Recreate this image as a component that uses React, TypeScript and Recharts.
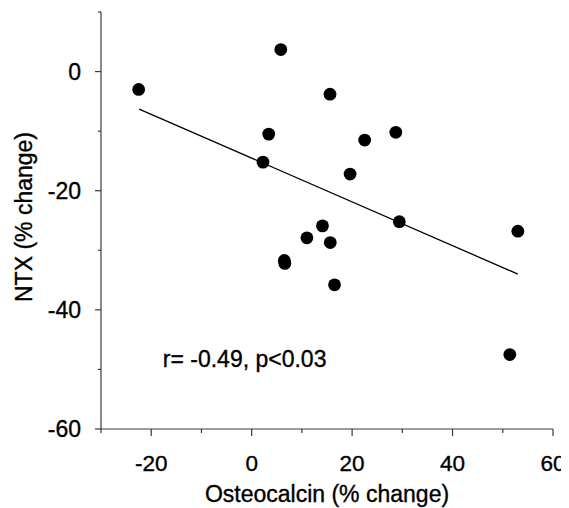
import React from 'react';
import { ScatterChart, Scatter, XAxis, YAxis, ReferenceLine, ReferenceDot } from 'recharts';

const osteocalcin = [-22.5, 5.8, 15.6, 3.4, 22.5, 28.7, 2.25, 19.6, 29.4, 53.0, 14.1, 11.0, 15.65, 6.5, 6.6, 16.5, 51.4];
const ntx = [-3.0, 3.7, -3.8, -10.5, -11.5, -10.2, -15.2, -17.2, -25.2, -26.8, -25.9, -27.9, -28.7, -31.7, -32.2, -35.8, -47.5];

const fitX = [-22.4, 53.0];
const fitY = [-6.3, -34.0];

const xTicks = [-30, -20, -10, 0, 10, 20, 30, 40, 50, 60];
const xLabelled = [-20, 0, 20, 40, 60];
const yTicks = [-60, -50, -40, -30, -20, -10, 0, 10];
const yLabelled = [-60, -40, -20, 0];

const annotation = 'r= -0.49, p<0.03';
const annotationAt = { x: -17.7, y: -49.6 };
const xTitle = 'Osteocalcin (% change)';
const yTitle = 'NTX (% change)';

const points = osteocalcin.map((x, i) => ({ x, y: ntx[i] }));

const FONT = '"Liberation Sans", Arial, sans-serif';
const AXIS = '#3a3a3a';
const TXT = { fill: '#000', stroke: '#000', strokeWidth: 0.35, fontFamily: FONT };

const XTick = (props: any) => {
  const { x, y, payload } = props;
  const major = xLabelled.includes(payload.value);
  return (
    <g>
      <line x1={x} x2={x} y1={y} y2={y + (major ? 7 : 4)} stroke={AXIS} strokeWidth={1.2} />
      {major && (
        <text x={x} y={y + 42} textAnchor="middle" fontSize={22.5} {...TXT}>
          {payload.value}
        </text>
      )}
    </g>
  );
};

const YTick = (props: any) => {
  const { x, y, payload } = props;
  const major = yLabelled.includes(payload.value);
  return (
    <g>
      <line x1={x - (major ? 6 : 3)} x2={x} y1={y} y2={y} stroke={AXIS} strokeWidth={1.2} />
      {major && (
        <text x={x - 20} y={y + 8} textAnchor="end" fontSize={23} {...TXT}>
          {payload.value}
        </text>
      )}
    </g>
  );
};

export default function App() {
  return (
    <ScatterChart width={561} height={500} margin={{ top: 4, right: 16, bottom: 0, left: 0 }}>
      <XAxis
        type="number"
        dataKey="x"
        domain={[-30, 60]}
        ticks={xTicks}
        interval={0}
        tickLine={false}
        tickSize={0}
        tickMargin={0}
        tick={<XTick />}
        axisLine={{ stroke: AXIS, strokeWidth: 1.2 }}
        height={79}
        allowDataOverflow
        label={{
          content: (p: any) => {
            const vb = p.viewBox;
            return (
              <text x={vb.x + vb.width / 2} y={vb.y + 73} textAnchor="middle" fontSize={23} {...TXT}>
                {xTitle}
              </text>
            );
          },
        }}
      />
      <YAxis
        type="number"
        dataKey="y"
        domain={[-60, 10]}
        ticks={yTicks}
        interval={0}
        tickLine={false}
        tickSize={0}
        tickMargin={0}
        tick={<YTick />}
        axisLine={{ stroke: AXIS, strokeWidth: 1.2 }}
        width={93}
        allowDataOverflow
        label={{
          content: (p: any) => {
            const vb = p.viewBox;
            const cx = vb.x + 24;
            const cy = vb.y + vb.height / 2 - 3.5;
            return (
              <text x={cx} y={cy} transform={`rotate(-90 ${cx} ${cy})`} textAnchor="middle" fontSize={23} {...TXT}>
                {yTitle}
              </text>
            );
          },
        }}
      />
      <ReferenceLine
        segment={[{ x: fitX[0], y: fitY[0] }, { x: fitX[1], y: fitY[1] }]}
        stroke="#000"
        strokeWidth={1.3}
        ifOverflow="visible"
      />
      <Scatter
        data={points}
        isAnimationActive={false}
        shape={(p: any) => <circle cx={p.cx} cy={p.cy} r={6.4} fill="#000" />}
      />
      <ReferenceDot
        x={annotationAt.x}
        y={annotationAt.y}
        r={0}
        fill="none"
        stroke="none"
        ifOverflow="visible"
        label={{
          content: (p: any) => {
            const vb = p.viewBox;
            return (
              <text x={vb.x} y={vb.y} textAnchor="start" fontSize={23} {...TXT}>
                {annotation}
              </text>
            );
          },
        }}
      />
    </ScatterChart>
  );
}
